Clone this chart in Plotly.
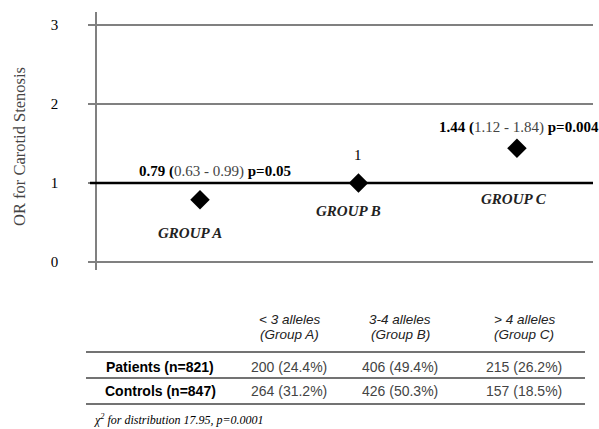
import plotly.graph_objects as go

# ---------------- data ----------------
groups = ["GROUP A", "GROUP B", "GROUP C"]
or_values = [0.79, 1.0, 1.44]
ci_low = [0.63, None, 1.12]
ci_high = [0.99, None, 1.84]
p_values = ["0.05", None, "0.004"]
ref_or = 1
y_ticks = [0, 1, 2, 3]

allele_labels = ["< 3 alleles", "3-4 alleles", "> 4 alleles"]
table_groups = ["(Group A)", "(Group B)", "(Group C)"]
row_labels = ["Patients (n=821)", "Controls (n=847)"]
patients_counts = [200, 406, 215]
patients_pct = [24.4, 49.4, 26.2]
controls_counts = [264, 426, 157]
controls_pct = [31.2, 50.3, 18.5]
chi_note = "χ<sup>2</sup> for distribution 17.95, p=0.0001"

# ---------------- layout helpers ----------------
W, H = 599, 429
L, R, T, B = 97, 593, 12, 270


def px(x):
    return (x - L) / (R - L)


def py(y):
    return (B - y) / (B - T)


SERIF = "Liberation Serif, Times New Roman, serif"
SANS = "Liberation Sans, Arial, sans-serif"
GRID = "#808080"

fig = go.Figure()
fig.add_trace(go.Scatter(
    x=groups, y=or_values, mode="markers",
    marker=dict(symbol="diamond", size=15, color="black"),
    cliponaxis=False, showlegend=False, hoverinfo="skip",
))

# reference line at OR = 1
fig.add_shape(type="line", xref="paper", yref="y", x0=px(90), x1=1,
              y0=ref_or, y1=ref_or, line=dict(color="black", width=2.5))

annotations = []


def ann(**kw):
    kw.setdefault("showarrow", False)
    kw.setdefault("xanchor", "center")
    kw.setdefault("yanchor", "middle")
    annotations.append(kw)


# OR labels above markers
label_offsets = [(15, 28), (0, 28), (2, 21)]
group_offsets = [(-10, -33), (-10, -28), (-3, -51)]
for i, g in enumerate(groups):
    if ci_low[i] is None:
        txt = f"{or_values[i]:g}"
    else:
        txt = (f"<b>{or_values[i]:.2f} (</b><span style='color:#444'>{ci_low[i]:.2f} - "
               f"{ci_high[i]:.2f})</span> <b>p={p_values[i]}</b>")
    xs, ys = label_offsets[i]
    ann(x=g, y=or_values[i], xref="x", yref="y", text=txt, xshift=xs, yshift=ys,
        font=dict(family=SERIF, size=15, color="black"))
    xs, ys = group_offsets[i]
    ann(x=g, y=or_values[i], xref="x", yref="y", text=f"<b><i>{g}</i></b>",
        xshift=xs, yshift=ys, font=dict(family=SERIF, size=15, color="#222"))

# y-axis title
ann(x=px(19), y=py(147), xref="paper", yref="paper",
    text="OR for Carotid Stenosis", textangle=-90,
    font=dict(family=SERIF, size=16.5, color="#444"))

# ---------------- table ----------------
col_x = [289, 400, 524]
label_x = 160
for j in range(3):
    ann(x=px(col_x[j]), y=py(319), xref="paper", yref="paper",
        text=f"<i>{allele_labels[j]}</i>",
        font=dict(family=SANS, size=13.5, color="#222"))
    ann(x=px(col_x[j]), y=py(334), xref="paper", yref="paper",
        text=f"<i>{table_groups[j]}</i>",
        font=dict(family=SANS, size=13.5, color="#222"))

rows = [(patients_counts, patients_pct, 367), (controls_counts, controls_pct, 391)]
for r, (counts, pcts, yy) in enumerate(rows):
    ann(x=px(label_x), y=py(yy), xref="paper", yref="paper",
        text=f"<b>{row_labels[r]}</b>",
        font=dict(family=SANS, size=14, color="black"))
    for j in range(3):
        ann(x=px(col_x[j]), y=py(yy), xref="paper", yref="paper",
            text=f"{counts[j]} ({pcts[j]:.1f}%)",
            font=dict(family=SANS, size=14, color="#444"))

for yy in [352, 378, 404]:
    fig.add_shape(type="line", xref="paper", yref="paper", x0=px(86), x1=px(585),
                  y0=py(yy), y1=py(yy), line=dict(color="#444", width=1.5))

ann(x=px(92), y=py(429), xref="paper", yref="paper", xanchor="left", yanchor="bottom",
    text=f"<i>{chi_note}</i>", font=dict(family=SERIF, size=12, color="black"))

fig.update_layout(
    width=W, height=H,
    margin=dict(l=L, r=W - R, t=T, b=H - B, pad=0),
    paper_bgcolor="white", plot_bgcolor="white",
    annotations=annotations,
    xaxis=dict(type="category", range=[-0.65, 2.48], visible=False),
    yaxis=dict(range=[-0.1, 3.165], tickvals=y_ticks, showgrid=True,
               gridcolor=GRID, gridwidth=1.5, zeroline=False,
               showline=True, linecolor=GRID, linewidth=1.5,
               ticks="outside", ticklen=7, tickcolor=GRID, tickwidth=1.5,
               ticklabelstandoff=27, automargin=False,
               tickfont=dict(family=SERIF, size=15, color="black")),
)

fig.write_html("out.html", config={"displayModeBar": False},
               post_script="document.body.style.margin='0';")
